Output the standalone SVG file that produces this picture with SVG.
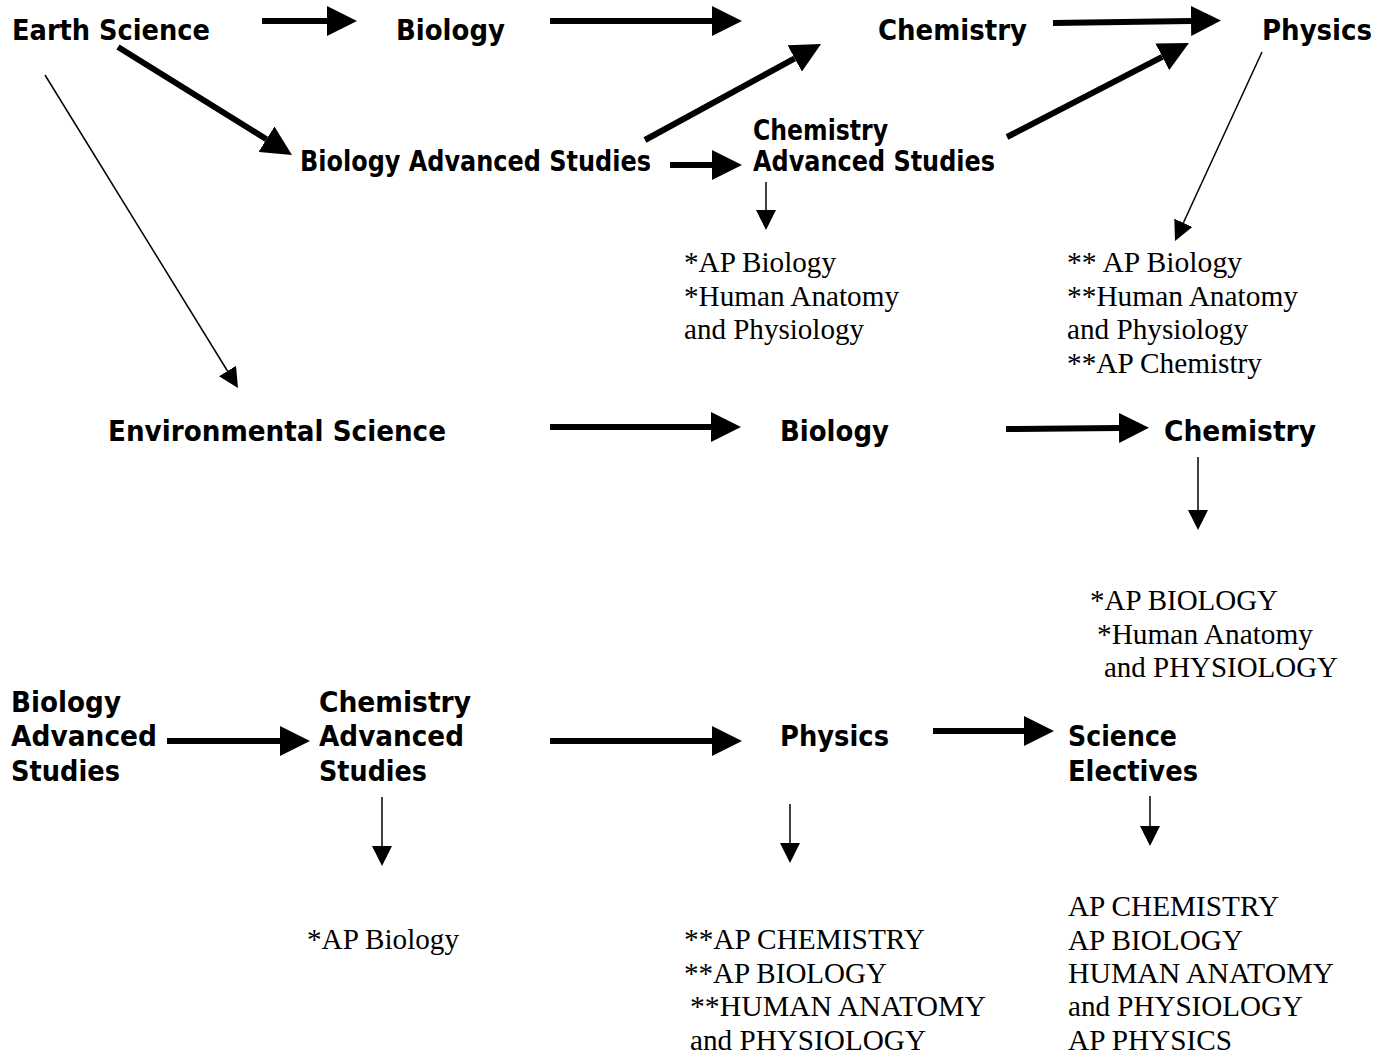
<svg xmlns="http://www.w3.org/2000/svg" width="1392" height="1059" viewBox="0 0 1392 1059">
<style>
.b{font-family:"DejaVu Sans","Liberation Sans",sans-serif;font-weight:bold;font-size:28px;fill:#000}
.s{font-family:"Liberation Serif","Times New Roman",serif;font-size:29px;fill:#000}
.tk{stroke:#000;stroke-width:6;fill:none;marker-end:url(#ah)}
.tn{stroke:#000;stroke-width:1.5;fill:none;marker-end:url(#ahs)}
</style>
<defs>
<marker id="ah" markerUnits="userSpaceOnUse" markerWidth="30" markerHeight="30" refX="0" refY="15" orient="auto"><path d="M0,0 L30,15 L0,30 z" fill="#000"/></marker>
<marker id="ahs" markerUnits="userSpaceOnUse" markerWidth="20" markerHeight="20" refX="0" refY="10" orient="auto"><path d="M0,0 L20,10 L0,20 z" fill="#000"/></marker>
</defs>
<rect width="1392" height="1059" fill="#fff"/>
<g id="connectors">
<path class="tk" d="M262,21 L327,21"/>
<path class="tk" d="M550,21 L712,21"/>
<path class="tk" d="M1053,23 L1191,21"/>
<path class="tk" d="M118,47 L266.5,139.2"/>
<path class="tk" d="M645,140 L794.7,58.4"/>
<path class="tk" d="M670,165 L712,165"/>
<path class="tk" d="M1007,137 L1162.3,56.8"/>
<path class="tk" d="M550,427 L711,427"/>
<path class="tk" d="M1006,429 L1119,428"/>
<path class="tk" d="M167,741 L280,741"/>
<path class="tk" d="M550,741 L712,741"/>
<path class="tk" d="M933,731 L1024,731"/>
<path class="tn" d="M45,75 L227.5,371"/>
<path class="tn" d="M1262,52 L1183.4,222.8"/>
<path class="tn" d="M766,182 L766,210"/>
<path class="tn" d="M1198,457 L1198,510"/>
<path class="tn" d="M382,797 L382,846"/>
<path class="tn" d="M790,804 L790,843"/>
<path class="tn" d="M1150,796 L1150,826"/>
</g>
<g id="earth-science"><text class="b" x="12" y="40" textLength="198" lengthAdjust="spacingAndGlyphs">Earth Science</text></g>
<g id="biology-1"><text class="b" x="396" y="40" textLength="109" lengthAdjust="spacingAndGlyphs">Biology</text></g>
<g id="chemistry-1"><text class="b" x="878" y="40" textLength="149" lengthAdjust="spacingAndGlyphs">Chemistry</text></g>
<g id="physics-1"><text class="b" x="1262" y="40" textLength="110" lengthAdjust="spacingAndGlyphs">Physics</text></g>
<g id="bio-adv-1"><text class="b" x="300" y="171" textLength="351" lengthAdjust="spacingAndGlyphs">Biology Advanced Studies</text></g>
<g id="chem-adv-1"><text class="b" x="753" y="140" textLength="135" lengthAdjust="spacingAndGlyphs">Chemistry</text><text class="b" x="753" y="171" textLength="242" lengthAdjust="spacingAndGlyphs">Advanced Studies</text></g>
<g id="courses-1"><text class="s" x="684" y="272" textLength="152" lengthAdjust="spacingAndGlyphs">*AP Biology</text><text class="s" x="684" y="306" textLength="215" lengthAdjust="spacingAndGlyphs">*Human Anatomy</text><text class="s" x="684" y="339" textLength="180" lengthAdjust="spacingAndGlyphs">and Physiology</text></g>
<g id="courses-2"><text class="s" x="1067" y="272" textLength="175" lengthAdjust="spacingAndGlyphs">** AP Biology</text><text class="s" x="1067" y="306" textLength="231" lengthAdjust="spacingAndGlyphs">**Human Anatomy</text><text class="s" x="1067" y="339" textLength="181" lengthAdjust="spacingAndGlyphs">and Physiology</text><text class="s" x="1067" y="373" textLength="195" lengthAdjust="spacingAndGlyphs">**AP Chemistry</text></g>
<g id="env-science"><text class="b" x="108" y="441" textLength="338" lengthAdjust="spacingAndGlyphs">Environmental Science</text></g>
<g id="biology-2"><text class="b" x="780" y="441" textLength="109" lengthAdjust="spacingAndGlyphs">Biology</text></g>
<g id="chemistry-2"><text class="b" x="1164" y="441" textLength="152" lengthAdjust="spacingAndGlyphs">Chemistry</text></g>
<g id="courses-3"><text class="s" x="1090" y="610" textLength="188" lengthAdjust="spacingAndGlyphs">*AP BIOLOGY</text><text class="s" x="1097" y="644" textLength="216" lengthAdjust="spacingAndGlyphs">*Human Anatomy</text><text class="s" x="1104" y="677" textLength="234" lengthAdjust="spacingAndGlyphs">and PHYSIOLOGY</text></g>
<g id="bio-adv-2"><text class="b" x="11" y="712" textLength="110" lengthAdjust="spacingAndGlyphs">Biology</text><text class="b" x="11" y="746" textLength="146" lengthAdjust="spacingAndGlyphs">Advanced</text><text class="b" x="11" y="781" textLength="109" lengthAdjust="spacingAndGlyphs">Studies</text></g>
<g id="chem-adv-2"><text class="b" x="319" y="712" textLength="152" lengthAdjust="spacingAndGlyphs">Chemistry</text><text class="b" x="319" y="746" textLength="145" lengthAdjust="spacingAndGlyphs">Advanced</text><text class="b" x="319" y="781" textLength="108" lengthAdjust="spacingAndGlyphs">Studies</text></g>
<g id="physics-2"><text class="b" x="780" y="746" textLength="109" lengthAdjust="spacingAndGlyphs">Physics</text></g>
<g id="science-electives"><text class="b" x="1068" y="746" textLength="109" lengthAdjust="spacingAndGlyphs">Science</text><text class="b" x="1068" y="781" textLength="130" lengthAdjust="spacingAndGlyphs">Electives</text></g>
<g id="courses-4"><text class="s" x="307" y="949" textLength="152" lengthAdjust="spacingAndGlyphs">*AP Biology</text></g>
<g id="courses-5"><text class="s" x="684" y="949" textLength="241" lengthAdjust="spacingAndGlyphs">**AP CHEMISTRY</text><text class="s" x="684" y="983" textLength="203" lengthAdjust="spacingAndGlyphs">**AP BIOLOGY</text><text class="s" x="690" y="1016" textLength="296" lengthAdjust="spacingAndGlyphs">**HUMAN ANATOMY</text><text class="s" x="690" y="1050" textLength="236" lengthAdjust="spacingAndGlyphs">and PHYSIOLOGY</text></g>
<g id="courses-6"><text class="s" x="1068" y="916" textLength="211" lengthAdjust="spacingAndGlyphs">AP CHEMISTRY</text><text class="s" x="1068" y="950" textLength="175" lengthAdjust="spacingAndGlyphs">AP BIOLOGY</text><text class="s" x="1068" y="983" textLength="266" lengthAdjust="spacingAndGlyphs">HUMAN ANATOMY</text><text class="s" x="1068" y="1016" textLength="235" lengthAdjust="spacingAndGlyphs">and PHYSIOLOGY</text><text class="s" x="1068" y="1050" textLength="164" lengthAdjust="spacingAndGlyphs">AP PHYSICS</text></g>
</svg>
